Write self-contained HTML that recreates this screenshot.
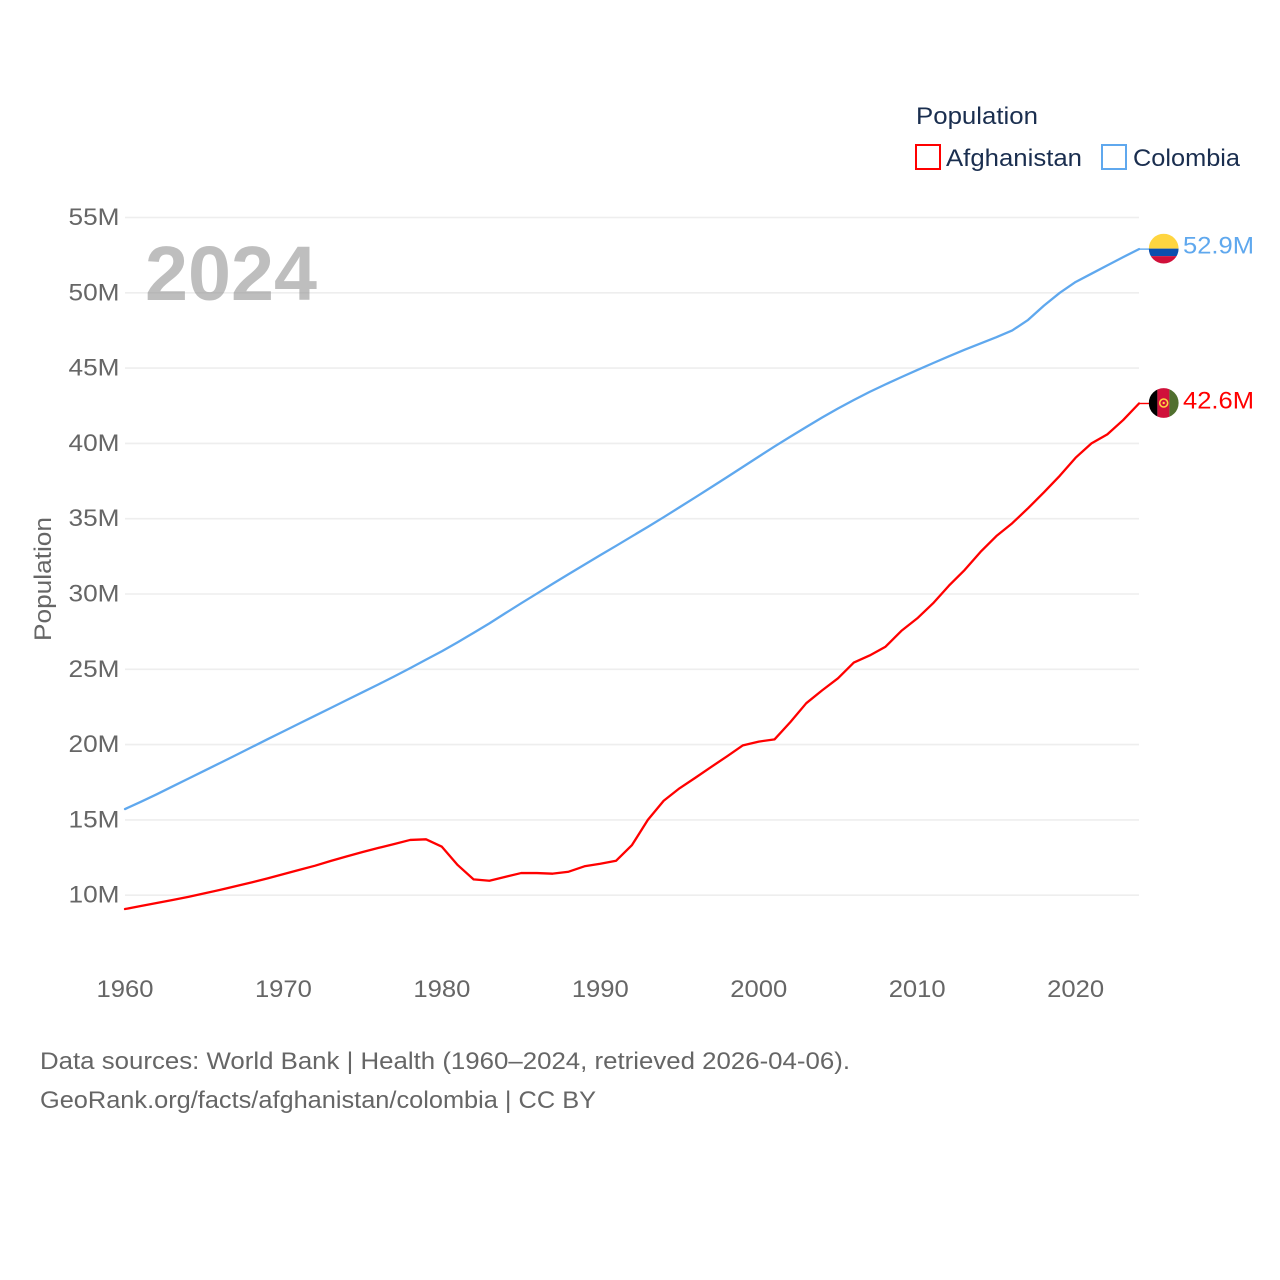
<!DOCTYPE html>
<html lang="en">
<head>
<meta charset="utf-8">
<title>Population: Afghanistan and Colombia</title>
<style>
html,body{margin:0;padding:0;background:#fff}
svg{display:block}
text{font-family:"Liberation Sans",sans-serif}
</style>
</head>
<body>
<svg id="chart" xmlns="http://www.w3.org/2000/svg" width="1280" height="1280" viewBox="0 0 1280 1280">
  <defs>
    <clipPath id="flag-clip-co"><circle id="flag-clip-co-circle" cx="1163.7" cy="248.5" r="14.9"></circle></clipPath>
    <clipPath id="flag-clip-af"><circle id="flag-clip-af-circle" cx="1163.7" cy="403" r="14.9"></circle></clipPath>
  </defs>
  <rect x="0" y="0" width="1280" height="1280" fill="#ffffff"></rect>
  <g id="grid"></g>
  <g id="y-ticks"></g>
  <g id="x-ticks"></g>
  <text transform="translate(51,641) rotate(-90)" font-size="24" fill="#666666" textLength="124" lengthAdjust="spacingAndGlyphs">Population</text>
  <text id="year-label" x="145" y="300" font-size="77" font-weight="700" fill="#8f8f8f" fill-opacity="0.58" textLength="172" lengthAdjust="spacingAndGlyphs"></text>
  <g id="series"></g>
  <g id="ends"></g>
  <g>
    <text x="916" y="124" font-size="24.5" fill="#1a2e4f" textLength="122" lengthAdjust="spacingAndGlyphs">Population</text>
    <g>
      <rect x="916" y="145" width="24" height="24" fill="none" stroke="#ff0000" stroke-width="2"></rect>
      <text x="946" y="166" font-size="24.5" fill="#1a2e4f" textLength="136" lengthAdjust="spacingAndGlyphs">Afghanistan</text>
    </g>
    <g>
      <rect x="1102" y="145" width="24" height="24" fill="none" stroke="#5fa8ee" stroke-width="2"></rect>
      <text x="1133" y="166" font-size="24.5" fill="#1a2e4f" textLength="107" lengthAdjust="spacingAndGlyphs">Colombia</text>
    </g>
  </g>
  <g>
    <text x="40" y="1069" font-size="24.5" fill="#666666" textLength="810" lengthAdjust="spacingAndGlyphs">Data sources: World Bank | Health (1960–2024, retrieved 2026-04-06).</text>
    <text x="40" y="1108" font-size="24.5" fill="#666666" textLength="556" lengthAdjust="spacingAndGlyphs">GeoRank.org/facts/afghanistan/colombia | CC BY</text>
  </g>
</svg>
<script>
const years = [1960,1961,1962,1963,1964,1965,1966,1967,1968,1969,1970,1971,1972,1973,1974,1975,1976,1977,1978,1979,1980,1981,1982,1983,1984,1985,1986,1987,1988,1989,1990,1991,1992,1993,1994,1995,1996,1997,1998,1999,2000,2001,2002,2003,2004,2005,2006,2007,2008,2009,2010,2011,2012,2013,2014,2015,2016,2017,2018,2019,2020,2021,2022,2023,2024];
const afghanistan = [9.08,9.28,9.48,9.68,9.89,10.12,10.35,10.6,10.85,11.12,11.4,11.68,11.96,12.28,12.58,12.87,13.14,13.4,13.67,13.71,13.22,12.0,11.05,10.96,11.22,11.47,11.47,11.43,11.56,11.92,12.09,12.29,13.33,15.0,16.27,17.1,17.8,18.52,19.22,19.95,20.2,20.35,21.5,22.75,23.6,24.4,25.45,25.92,26.5,27.55,28.38,29.38,30.55,31.6,32.8,33.85,34.7,35.7,36.75,37.85,39.05,40.0,40.6,41.55,42.65];
const colombia = [15.72,16.2,16.7,17.22,17.74,18.26,18.78,19.3,19.83,20.36,20.88,21.4,21.92,22.44,22.96,23.48,24.0,24.53,25.08,25.64,26.2,26.8,27.42,28.05,28.72,29.38,30.03,30.68,31.32,31.95,32.58,33.2,33.83,34.46,35.1,35.76,36.42,37.09,37.76,38.44,39.12,39.8,40.45,41.09,41.72,42.32,42.88,43.42,43.92,44.4,44.87,45.33,45.78,46.22,46.64,47.05,47.5,48.2,49.15,50.0,50.72,51.27,51.82,52.37,52.9];
const yTickValues = [10,15,20,25,30,35,40,45,50,55];
const yTickLabels = ["10M","15M","20M","25M","30M","35M","40M","45M","50M","55M"];
const xTickValues = [1960,1970,1980,1990,2000,2010,2020];
const xTickLabels = ["1960","1970","1980","1990","2000","2010","2020"];

const SVG_NS = 'http://www.w3.org/2000/svg';
const plotLeft = 125, plotRight = 1139;
const yearMin = years[0], yearMax = years[years.length - 1];
function xScale(year) { return plotLeft + (year - yearMin) * (plotRight - plotLeft) / (yearMax - yearMin); }
function yScale(v) { return 895.2 - (v - 10) * 15.06; }
function make(tag, attrs, parent) {
  const el = document.createElementNS(SVG_NS, tag);
  for (const k in attrs) el.setAttribute(k, attrs[k]);
  parent.appendChild(el);
  return el;
}
const gridG = document.getElementById('grid');
const yTickG = document.getElementById('y-ticks');
const xTickG = document.getElementById('x-ticks');
const seriesG = document.getElementById('series');
const endsG = document.getElementById('ends');

yTickValues.forEach(function (v, i) {
  const line = make('line', { x1: plotLeft, x2: plotRight, y1: yScale(v), y2: yScale(v), stroke: '#eeeeee', 'stroke-width': 1.6 }, gridG);
  
  
  const label = make('text', { x: 119.5, y: yScale(v) + 7.5, 'text-anchor': 'end', 'font-size': 24.5, fill: '#666666', textLength: 51, lengthAdjust: 'spacingAndGlyphs' }, yTickG);
  label.textContent = yTickLabels[i];
  
  
});

xTickValues.forEach(function (v, i) {
  const label = make('text', { x: xScale(v), y: 997, 'text-anchor': 'middle', 'font-size': 24.5, fill: '#666666', textLength: 57, lengthAdjust: 'spacingAndGlyphs' }, xTickG);
  label.textContent = xTickLabels[i];
  
  
});

function drawSeries(values, color) {
  const pts = values.map(function (v, i) { return xScale(years[i]) + ',' + yScale(v); }).join(' ');
  return make('polyline', { points: pts, fill: 'none', stroke: color, 'stroke-width': 2.3, 'stroke-linejoin': 'round', 'stroke-linecap': 'round' }, seriesG);
}
const colombiaLine = drawSeries(colombia, '#5fa8ee');


const afghanistanLine = drawSeries(afghanistan, '#ff0000');



document.getElementById('year-label').textContent = String(yearMax);

const coY = yScale(colombia[colombia.length - 1]);
const afY = yScale(afghanistan[afghanistan.length - 1]);
const coFlagY = coY - 0.5;
const afFlagY = afY - 0.5;
const flagX = 1163.7;

const coLead = make('line', { x1: plotRight, x2: flagX - 14, y1: coY, y2: coY, stroke: '#5fa8ee', 'stroke-width': 1.4 }, endsG);


const afLead = make('line', { x1: plotRight, x2: flagX - 14, y1: afY, y2: afY, stroke: '#ff0000', 'stroke-width': 1.4 }, endsG);



document.getElementById('flag-clip-co-circle').setAttribute('cy', coFlagY);
document.getElementById('flag-clip-af-circle').setAttribute('cy', afFlagY);

const coFlag = make('g', { 'clip-path': 'url(#flag-clip-co)' }, endsG);


make('rect', { x: flagX - 15, y: coFlagY - 15, width: 30, height: 15, fill: '#ffd540' }, coFlag);
make('rect', { x: flagX - 15, y: coFlagY, width: 30, height: 7.5, fill: '#0b4fae' }, coFlag);
make('rect', { x: flagX - 15, y: coFlagY + 7.5, width: 30, height: 8, fill: '#d0103a' }, coFlag);

const afFlag = make('g', { 'clip-path': 'url(#flag-clip-af)' }, endsG);


make('rect', { x: flagX - 15, y: afFlagY - 15, width: 8.7, height: 30, fill: '#000000' }, afFlag);
make('rect', { x: flagX - 6.3, y: afFlagY - 15, width: 12, height: 30, fill: '#d0103a' }, afFlag);
make('rect', { x: flagX + 5.7, y: afFlagY - 15, width: 10, height: 30, fill: '#4f6f2e' }, afFlag);
make('circle', { cx: flagX, cy: afFlagY, r: 4, fill: 'none', stroke: '#ffd540', 'stroke-width': 1.6 }, afFlag);
make('circle', { cx: flagX, cy: afFlagY, r: 1.2, fill: '#ffd540' }, afFlag);

const coValue = make('text', { x: 1183, y: coY + 4.5, 'font-size': 24.5, fill: '#5fa8ee', textLength: 71, lengthAdjust: 'spacingAndGlyphs' }, endsG);
coValue.textContent = colombia[colombia.length - 1].toFixed(1) + 'M';


const afValue = make('text', { x: 1183, y: afY + 5, 'font-size': 24.5, fill: '#ff0000', textLength: 71, lengthAdjust: 'spacingAndGlyphs' }, endsG);
afValue.textContent = afghanistan[afghanistan.length - 1].toFixed(1) + 'M';


</script>
</body>
</html>
